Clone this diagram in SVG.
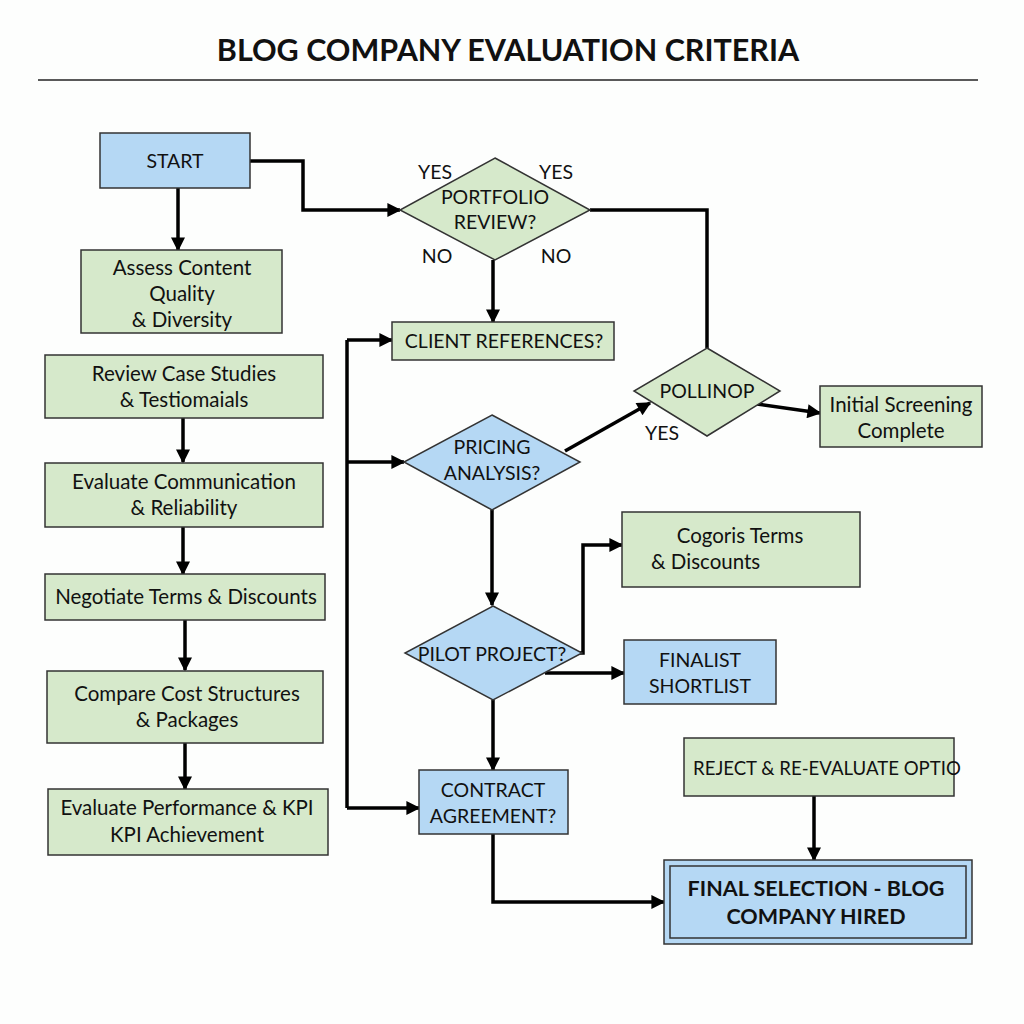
<svg xmlns="http://www.w3.org/2000/svg" width="1024" height="1024" viewBox="0 0 1024 1024">
<style>
.g{fill:#d6e9cb;stroke:#333;stroke-width:1.5}
.b{fill:#b5d8f4;stroke:#333;stroke-width:1.5}
.t{font-family:Lato,"Liberation Sans",sans-serif;font-size:20.5px;fill:#111;text-anchor:middle}
.u{font-size:19.5px}
.c{fill:none;stroke:#000;stroke-width:3.5;marker-end:url(#ah)}
.n{fill:none;stroke:#000;stroke-width:3.5}
</style>
<defs>
<marker id="ah" viewBox="0 0 10 10" refX="9" refY="5" markerWidth="4.5" markerHeight="4" orient="auto" markerUnits="strokeWidth">
<path d="M0,0 L10,5 L0,10 z" fill="#000"/>
</marker>
</defs>
<rect width="1024" height="1024" fill="#fdfefd"/>
<text x="508" y="61" font-family="Lato,'Liberation Sans',sans-serif" font-size="30.5" font-weight="bold" text-anchor="middle" fill="#111">BLOG COMPANY EVALUATION CRITERIA</text>
<line x1="38" y1="80" x2="978" y2="80" stroke="#222" stroke-width="1.5"/>

<g id="connectors">
<path class="c" d="M250,161 H303 V210 H400"/>
<path class="c" d="M178,188 V250"/>
<path class="c" d="M183,418 V462"/>
<path class="c" d="M183,527 V574"/>
<path class="c" d="M185,620 V670"/>
<path class="c" d="M185,743 V789"/>
<path class="n" d="M590,210 H707 V348"/>
<path class="c" d="M493,260 V322"/>
<path class="n" d="M347,340 V808"/>
<path class="c" d="M347,340 H392"/>
<path class="c" d="M347,462 H404"/>
<path class="c" d="M347,808 H419"/>
<path class="c" d="M565,451 L650,403"/>
<path class="c" d="M757,404 L820,413"/>
<path class="c" d="M492,510 V605"/>
<path class="c" d="M578,653 H583 V545 H622"/>
<path class="c" d="M545,673 H624"/>
<path class="c" d="M493,700 V770"/>
<path class="c" d="M493,834 V902 H664"/>
<path class="c" d="M814,796 V860"/>
</g>

<g id="start"><rect class="b" x="100" y="133" width="150" height="55"/><text class="t u" x="175" y="168">START</text></g>
<g id="assess"><rect class="g" x="81" y="250" width="201" height="83"/><text class="t" x="182" y="275">Assess Content</text><text class="t" x="182" y="301">Quality</text><text class="t" x="182" y="327">&amp; Diversity</text></g>
<g id="review"><rect class="g" x="45" y="355" width="278" height="63"/><text class="t" x="184" y="381">Review Case Studies</text><text class="t" x="184" y="407">&amp; Testiomaials</text></g>
<g id="communication"><rect class="g" x="45" y="463" width="278" height="64"/><text class="t" x="184" y="489">Evaluate Communication</text><text class="t" x="184" y="515">&amp; Reliability</text></g>
<g id="negotiate"><rect class="g" x="45" y="574" width="280" height="46"/><text class="t" x="186" y="604">Negotiate Terms &amp; Discounts</text></g>
<g id="compare"><rect class="g" x="47" y="671" width="276" height="72"/><text class="t" x="187" y="701">Compare Cost Structures</text><text class="t" x="187" y="727">&amp; Packages</text></g>
<g id="performance"><rect class="g" x="48" y="789" width="280" height="66"/><text class="t" x="187" y="815">Evaluate Performance &amp; KPI</text><text class="t" x="187" y="842">KPI Achievement</text></g>

<g id="portfolio"><polygon class="g" points="495,158 590,210 495,260 400,210"/><text class="t u" x="495" y="204">PORTFOLIO</text><text class="t u" x="495" y="229">REVIEW?</text>
<text class="t u" x="435" y="179">YES</text><text class="t u" x="556" y="179">YES</text><text class="t u" x="437" y="263">NO</text><text class="t u" x="556" y="263">NO</text></g>
<g id="client"><rect class="g" x="392" y="322" width="222" height="38"/><text class="t u" x="504" y="348">CLIENT REFERENCES?</text></g>
<g id="pricing"><polygon class="b" points="492,415 580,462 492,510 404,462"/><text class="t u" x="492" y="454">PRICING</text><text class="t u" x="492" y="480">ANALYSIS?</text></g>
<g id="pollinop"><polygon class="g" points="707,348 780,391 707,436 634,391"/><text class="t u" x="707" y="398">POLLINOP</text><text class="t u" x="662" y="440">YES</text></g>
<g id="screening"><rect class="g" x="820" y="386" width="162" height="61"/><text class="t" x="901" y="412">Initial Screening</text><text class="t" x="901" y="438">Complete</text></g>
<g id="pilot"><polygon class="b" points="493,606 582,653 493,700 405,653"/><text class="t u" x="492" y="661">PILOT PROJECT?</text></g>
<g id="cogoris"><rect class="g" x="622" y="512" width="238" height="75"/><text class="t" x="740" y="543">Cogoris Terms</text><text class="t" x="651" y="569" style="text-anchor:start">&amp; Discounts</text></g>
<g id="finalist"><rect class="b" x="624" y="640" width="152" height="64"/><text class="t u" x="700" y="667">FINALIST</text><text class="t u" x="700" y="693">SHORTLIST</text></g>
<g id="contract"><rect class="b" x="419" y="770" width="149" height="64"/><text class="t u" x="493" y="797">CONTRACT</text><text class="t u" x="493" y="823">AGREEMENT?</text></g>
<g id="reject"><rect class="g" x="684" y="738" width="270" height="58"/><text class="t" x="693" y="775" style="text-anchor:start;font-size:18.6px">REJECT &amp; RE-EVALUATE OPTIO</text></g>
<g id="final"><rect class="b" x="664" y="860" width="308" height="84"/><rect x="670" y="866" width="296" height="72" fill="none" stroke="#333" stroke-width="1.5"/>
<text class="t" x="816" y="896" style="font-weight:bold;font-size:21.5px">FINAL SELECTION - BLOG</text><text class="t" x="816" y="924" style="font-weight:bold;font-size:21.5px">COMPANY HIRED</text></g>
</svg>
